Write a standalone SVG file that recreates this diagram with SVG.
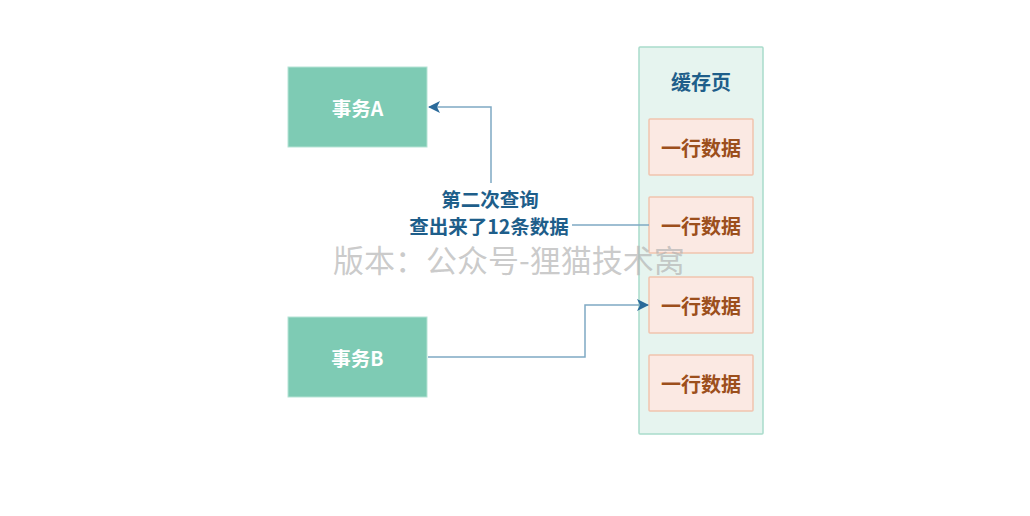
<svg xmlns="http://www.w3.org/2000/svg" width="1030" height="516" viewBox="0 0 1030 516">
<defs>
<style>
.node{fill:#7ecbb4;stroke:#b6e3d5;stroke-width:1}
.ntext{fill:#ffffff;font-family:"Noto Sans CJK SC","Noto Sans",sans-serif;font-weight:bold;font-size:19.5px;text-anchor:middle;dominant-baseline:central}
.page{fill:#e6f4ef;stroke:#a9dccb;stroke-width:1.5}
.row{fill:#fbe9e3;stroke:#f1c3ae;stroke-width:1.5}
.rtext{fill:#9c4f1c;font-family:"Noto Sans CJK SC","Noto Sans",sans-serif;font-weight:bold;font-size:20px;text-anchor:middle;dominant-baseline:central}
.title{fill:#1e5e8a;font-family:"Noto Sans CJK SC","Noto Sans",sans-serif;font-weight:bold;font-size:20px;text-anchor:middle;dominant-baseline:central}
.edge{fill:none;stroke:#7fa9c4;stroke-width:1.5}
.label{fill:#1e5e8a;font-family:"Noto Sans CJK SC","Noto Sans",sans-serif;font-weight:bold;font-size:19.5px;text-anchor:middle;dominant-baseline:central}
.wm{fill:#b4b4b4;fill-opacity:0.7;font-family:"Noto Sans CJK SC","Noto Sans",sans-serif;font-size:31px}
</style>
<marker id="arrow" viewBox="0 0 12 12" refX="11" refY="6" markerWidth="12" markerHeight="12" markerUnits="userSpaceOnUse" orient="auto">
<path d="M0,0 L12,6 L0,12 L3,6 Z" fill="#2a6a9a"/>
</marker>
</defs>
<rect width="1030" height="516" fill="#ffffff"/>
<g id="page">
<rect class="page" x="639" y="47" width="124" height="387" rx="1"/>
<text class="title" x="701" y="81">缓存页</text>
</g>
<g id="row1"><rect class="row" x="649" y="119" width="104" height="56" rx="1"/><text class="rtext" x="701" y="147">一行数据</text></g>
<g id="row2"><rect class="row" x="649" y="197" width="104" height="56" rx="1"/><text class="rtext" x="701" y="225">一行数据</text></g>
<g id="row3"><rect class="row" x="649" y="277" width="104" height="56" rx="1"/><text class="rtext" x="701" y="305">一行数据</text></g>
<g id="row4"><rect class="row" x="649" y="355" width="104" height="56" rx="1"/><text class="rtext" x="701" y="383">一行数据</text></g>
<g id="txA"><rect class="node" x="288" y="67" width="139" height="80"/><text class="ntext" x="357.5" y="107">事务A</text></g>
<g id="txB"><rect class="node" x="288" y="317" width="139" height="80"/><text class="ntext" x="357.5" y="357">事务B</text></g>
<g id="connectors">
<path class="edge" d="M649,225 H572 M491,183 V107 H429" marker-end="url(#arrow)"/>
<path class="edge" d="M428,357 H585 V305 H648" marker-end="url(#arrow)"/>
<text class="label" x="490" y="198">第二次查询</text>
<text class="label" x="489" y="225">查出来了12条数据</text>
</g>
<text class="wm" x="333" y="272">版本：公众号-狸猫技术窝</text>
</svg>
